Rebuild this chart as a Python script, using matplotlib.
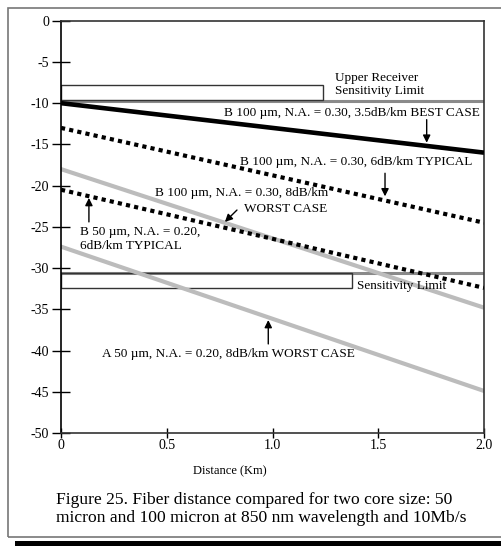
import matplotlib
matplotlib.use("Agg")
import matplotlib.pyplot as plt
from matplotlib.patches import Rectangle

plt.rcParams['font.family'] = ['Liberation Serif', 'DejaVu Serif']
plt.rcParams['axes.unicode_minus'] = False

# distance endpoints (km) and received power (dBm) for each fiber
dist = [0.0, 2.0]
b100_best = [-10.0, -16.0]
b100_typ = [-13.0, -24.5]
b100_worst = [-18.0, -34.8]
b50_typ = [-20.5, -32.4]
a50_worst = [-27.4, -44.9]

upper_limit = -9.7
lower_limit = -30.65
upper_box = (0.0, 1.237, -9.6, -7.8)     # x0, x1, y0, y1
lower_box = (0.0, 1.374, -32.45, -30.65)

xticks = [0, 0.5, 1.0, 1.5, 2.0]
xlabels = ['0', '0.5', '1.0', '1.5', '2.0']
yticks = list(range(0, -55, -5))

W, H = 501, 546
fig = plt.figure(figsize=(W / 100, H / 100), dpi=100)

# page frame with drop shadow
fig.add_artist(Rectangle((8 / W, 1 - 537 / H), 1.2, (537 - 8) / H,
                         transform=fig.transFigure, fill=False,
                         edgecolor='#777777', lw=1.2))
fig.add_artist(Rectangle((15 / W, 0), 1.2, 5 / H, transform=fig.transFigure,
                         facecolor='black', edgecolor='none'))

ax = fig.add_axes([61 / W, 1 - 433 / H, (484 - 61) / W, (433 - 20.7) / H])
ax.set_xlim(0, 2)
ax.set_ylim(-50, 0)

ax.axhline(upper_limit, color='#8a8a8a', lw=2.2, zorder=2)
ax.axhline(lower_limit, color='#8a8a8a', lw=2.2, zorder=2)
for x0, x1, y0, y1 in (upper_box, lower_box):
    ax.add_patch(Rectangle((x0, y0), x1 - x0, y1 - y0, fill=False,
                           edgecolor='#333333', lw=1.0, zorder=2))

ax.plot(dist, b100_best, color='black', lw=3.3, solid_capstyle='butt', zorder=3)
ax.plot(dist, b100_typ, color='black', lw=3.0, ls=(0, (1, 1)),
        dash_capstyle='butt', zorder=3)
ax.plot(dist, b50_typ, color='black', lw=3.0, ls=(0, (1, 1)),
        dash_capstyle='butt', zorder=3)
ax.plot(dist, b100_worst, color='#bcbcbc', lw=3.0, zorder=2.5)
ax.plot(dist, a50_worst, color='#bcbcbc', lw=3.0, zorder=2.5)

fs = 9.5
ls = 1.2
ax.text(1.296, -7.74, 'Upper Receiver\nSensitivity Limit', fontsize=fs,
        va='center', ha='left', linespacing=ls)
ax.text(0.77, -11.17, 'B 100 µm, N.A. = 0.30, 3.5dB/km BEST CASE',
        fontsize=fs, va='center', ha='left')
ax.text(0.846, -17.1, 'B 100 µm, N.A. = 0.30, 6dB/km TYPICAL',
        fontsize=fs, va='center', ha='left')
ax.text(0.445, -20.9, 'B 100 µm, N.A. = 0.30, 8dB/km', fontsize=fs,
        va='center', ha='left')
ax.text(0.866, -22.8, 'WORST CASE', fontsize=fs, va='center', ha='left')
ax.text(0.09, -26.45, 'B 50 µm, N.A. = 0.20,\n6dB/km TYPICAL', fontsize=fs,
        va='center', ha='left', linespacing=ls)
ax.text(1.401, -32.2, 'Sensitivity Limit', fontsize=fs, va='center', ha='left')
ax.text(0.192, -40.4, 'A 50 µm, N.A. = 0.20, 8dB/km WORST CASE',
        fontsize=fs, va='center', ha='left')

arrows = [((1.729, -14.8), (1.729, -12.0)),
          ((1.532, -21.3), (1.532, -18.5)),
          ((0.775, -24.4), (0.832, -22.96)),
          ((0.132, -21.5), (0.132, -24.4)),
          ((0.98, -36.3), (0.98, -39.2))]
for tip, tail in arrows:
    ax.annotate('', xy=tip, xytext=tail,
                arrowprops=dict(arrowstyle='-|>', color='black', lw=1.0,
                                mutation_scale=11, shrinkA=0, shrinkB=0),
                zorder=4)

ax.set_xticks(xticks)
ax.set_xticklabels(xlabels)
ax.set_yticks(yticks)
ax.tick_params(axis='y', direction='inout', length=13, width=1.0,
               labelsize=10, pad=2)
ax.tick_params(axis='x', direction='inout', length=7, width=1.0,
               labelsize=10, pad=1)
for side in ('top', 'right', 'bottom'):
    ax.spines[side].set_color('#333333')
ax.spines['left'].set_color('black')
for s in ax.spines.values():
    s.set_linewidth(1.2)

ax.text(0.8, -54.6, 'Distance (Km)', fontsize=9, ha='center', va='center')

fig.text(56 / W, 1 - 500 / H,
         'Figure 25. Fiber distance compared for two core size: 50',
         fontsize=12.6, va='center', ha='left')
fig.text(56 / W, 1 - 518 / H,
         'micron and 100 micron at 850 nm wavelength and 10Mb/s',
         fontsize=12.6, va='center', ha='left')

fig.savefig('out.png', dpi=100)
